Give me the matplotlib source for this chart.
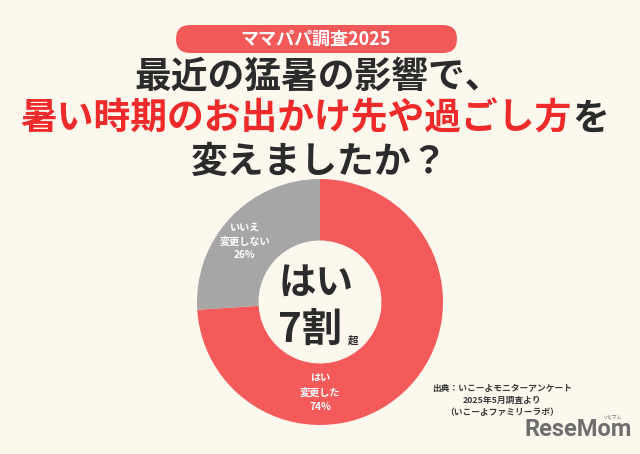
import matplotlib
matplotlib.use("Agg")
import matplotlib.pyplot as plt
from matplotlib.patches import FancyBboxPatch

plt.rcParams['font.family'] = ['Noto Sans CJK JP', 'DejaVu Sans']

# ---- data ----
categories = ["はい\n変更した", "いいえ\n変更しない"]
values = [74, 26]
colors = ["#f45a5a", "#a6a6a6"]
badge = "ママパパ調査2025"
title_line1 = "最近の猛暑の影響で、"
title_line2_red = "暑い時期のお出かけ先や過ごし方"
title_line2_dark = "を"
title_line3 = "変えましたか？"
center_top = "はい"
center_main = "7割"
center_suffix = "超"
source_lines = ["出典：いこーよモニターアンケート", "2025年5月調査より", "（いこーよファミリーラボ）"]

BG = "#fcf8ee"
DARK = "#2b2b2b"
RED = "#ee2a2a"
HEAVY = "bold"

W, H = 640, 454
fig = plt.figure(figsize=(W / 100, H / 100), dpi=100, facecolor=BG)

def fx(px):
    return px / W

def fy(py):
    return 1 - py / H

# badge pill
pill = FancyBboxPatch((176, H - 53), 281, 28,
                      boxstyle="round,pad=0,rounding_size=14",
                      transform=None, facecolor="#f25a5a", edgecolor="none")
fig.patches.append(pill)
fig.text(fx(316), fy(39), badge, color="white", fontsize=13, fontweight=HEAVY,
         ha="center", va="center")

# titles
fs = 26.5
fig.text(fx(318), fy(77), title_line1, color=DARK, fontsize=fs, fontweight=HEAVY,
         ha="center", va="center")
fig.text(fx(20), fy(119), title_line2_red, color=RED, fontsize=fs, fontweight=HEAVY,
         ha="left", va="center")
fig.text(fx(20 + 15 * 36.8), fy(119), title_line2_dark, color=DARK, fontsize=fs,
         fontweight=HEAVY, ha="left", va="center")
fig.text(fx(320), fy(162), title_line3, color=DARK, fontsize=fs, fontweight=HEAVY,
         ha="center", va="center")

# donut
cx, cy, R = 320, 302, 123
ax = fig.add_axes([fx(cx - R), (H - cy - R) / H, 2 * R / W, 2 * R / H])
ax.set_facecolor("none")
ax.pie(values, colors=colors, startangle=90, counterclock=False,
       wedgeprops=dict(width=0.5, edgecolor="none"))
ax.set_xlim(-1, 1)
ax.set_ylim(-1, 1)
ax.set_aspect("equal")
ax.axis("off")

# wedge labels
lab_pos = [(0.0, -0.74), (-0.61, 0.49)]
for (name, v, (lx, ly)) in zip(categories, values, lab_pos):
    ax.text(lx, ly, f"{name}\n{v}%", color="white", fontsize=7.3, fontweight="bold",
            ha="center", va="center", linespacing=1.45)

# center text
ax.text(-0.03, 0.16, center_top, color=DARK, fontsize=27, fontweight=HEAVY,
        ha="center", va="center")
ax.text(-0.08, -0.23, center_main, color=DARK, fontsize=29, fontweight=HEAVY,
        ha="center", va="center")
ax.text(0.27, -0.31, center_suffix, color=DARK, fontsize=7.5, fontweight=HEAVY,
        ha="center", va="center")

# source
for i, line in enumerate(source_lines):
    fig.text(fx(502), fy(388 + 12 * i), line, color="#3a3a3a", fontsize=6.3,
             fontweight="bold", ha="center", va="center")

# logo
fig.text(fx(578), fy(430), "ReseMom", color="#6e6e6e", fontsize=17, fontweight="bold",
         family="Roboto", ha="center", va="center")
fig.text(fx(613), fy(417), "リセマム", color="#6e6e6e", fontsize=3.5,
         ha="center", va="center")

fig.savefig("out.png", dpi=100, facecolor=BG)
